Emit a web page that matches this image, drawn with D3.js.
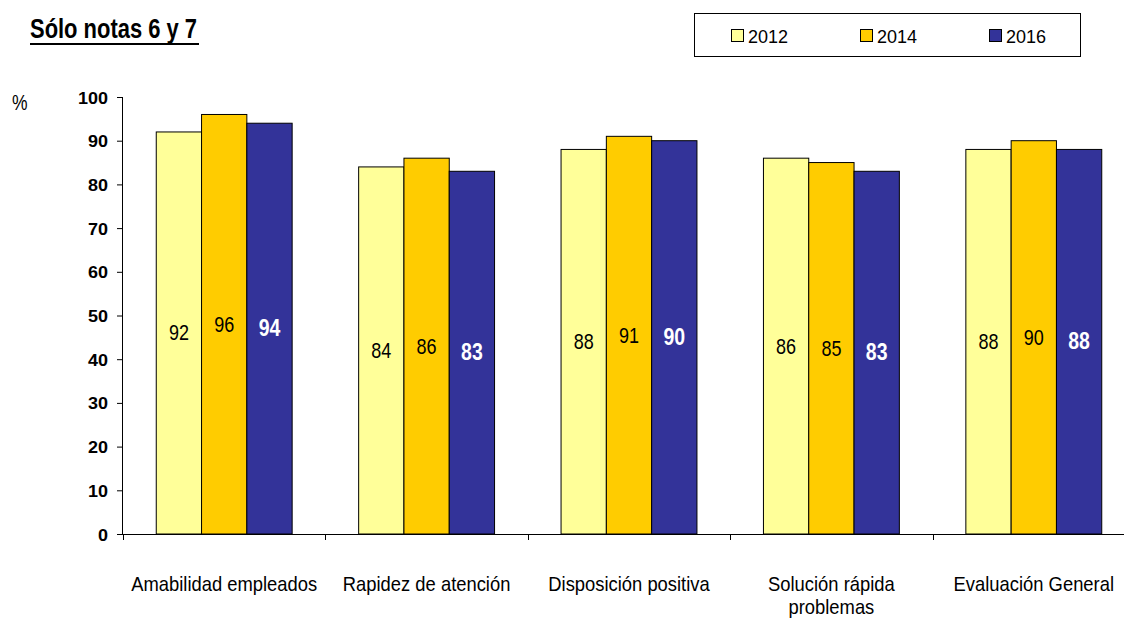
<!DOCTYPE html>
<html>
<head>
<meta charset="utf-8">
<script src="https://cdn.jsdelivr.net/npm/d3@7"></script>
<style>
  body { margin: 0; background: #fff; }
  svg { display: block; font-family: "Liberation Sans", Arial, sans-serif; }
</style>
</head>
<body>
<svg id="chart" width="1124" height="619"></svg>
<script>
// data
const categories = ['Amabilidad empleados', 'Rapidez de atención', 'Disposición positiva', 'Solución rápida problemas', 'Evaluación General'];
const years = ['2012', '2014', '2016'];
const values2012 = [92, 84, 88, 86, 88];
const values2014 = [96, 86, 91, 85, 90];
const values2016 = [94, 83, 90, 83, 88];
const yTicks = [0, 10, 20, 30, 40, 50, 60, 70, 80, 90, 100];

const colors = ['#FFFF99', '#FFCC00', '#333399'];
const series = [values2012, values2014, values2016];

const svg = d3.select('#chart');

const plot = { left: 123, top: 97, bottom: 534, catW: 202.4 };

const x = d3.scaleBand()
    .domain(categories)
    .range([plot.left, plot.left + plot.catW * categories.length])
    .paddingInner(0).paddingOuter(0);

const barW = 45.3;
const groupOffset = (x.bandwidth() - barW * years.length) / 2;

const y = d3.scaleLinear().domain([0, 100]).range([plot.bottom, plot.top]);

// text placed at (tx,ty) with a vertical stretch, the original glyphs are a bit tall
function label(parent, tx, ty, str, opts) {
    const o = Object.assign({ size: 18, weight: 'normal', fill: '#000', anchor: 'start', sy: 1 }, opts);
    return parent.append('text')
        .attr('transform', `translate(${tx},${ty}) scale(1,${o.sy})`)
        .attr('text-anchor', o.anchor)
        .attr('font-size', o.size)
        .attr('font-weight', o.weight)
        .attr('fill', o.fill)
        .text(str);
}

// y axis
const yAxis = svg.append('g')
    .attr('transform', `translate(${plot.left},0)`)
    .call(d3.axisLeft(y).tickValues(yTicks).tickSize(6).tickFormat(d3.format('d')));
yAxis.select('.domain').attr('stroke', '#000').attr('d', `M-0.5,${plot.top}V${plot.bottom}`);
yAxis.selectAll('.tick line').attr('stroke', '#000');
yAxis.selectAll('.tick text').remove();
yAxis.selectAll('.tick').each(function(d) {
    label(d3.select(this), -15, 6, d, { size: 18, weight: 'bold', anchor: 'end', sy: 0.88 });
});

label(svg, 12, 110, '%', { size: 17.5, sy: 1.25 });

// bars
categories.forEach((cat, ci) => {
    series.forEach((vals, si) => {
        const bx = x(cat) + groupOffset + si * barW;
        const v = vals[ci];
        svg.append('rect')
            .attr('x', bx).attr('y', y(v))
            .attr('width', barW).attr('height', y(0) - y(v))
            .attr('fill', colors[si])
            .attr('stroke', '#000').attr('stroke-width', 1);
    });
});

// value labels, centred in each bar
categories.forEach((cat, ci) => {
    series.forEach((vals, si) => {
        const bx = x(cat) + groupOffset + si * barW + barW / 2;
        const v = vals[ci];
        label(svg, bx, y(v / 2) + 7.5, v, {
            size: si === 2 ? 19.5 : 18,
            weight: si === 2 ? 'bold' : 'normal',
            fill: si === 2 ? '#fff' : '#000',
            anchor: 'middle',
            sy: 1.2
        });
    });
});

// x axis
const xAxis = svg.append('g');
xAxis.append('line')
    .attr('x1', plot.left).attr('x2', plot.left + plot.catW * categories.length)
    .attr('y1', plot.bottom + 0.5).attr('y2', plot.bottom + 0.5)
    .attr('stroke', '#000');
d3.range(categories.length + 1).forEach(i => {
    const tx = Math.round(plot.left + i * plot.catW) + 0.5;
    xAxis.append('line')
        .attr('x1', tx).attr('x2', tx)
        .attr('y1', plot.bottom).attr('y2', plot.bottom + 6)
        .attr('stroke', '#000');
});

// category labels (wrap like the original)
const catLines = {
    'Solución rápida problemas': ['Solución rápida', 'problemas']
};
categories.forEach(cat => {
    const lines = catLines[cat] || [cat];
    lines.forEach((ln, i) => {
        label(svg, x(cat) + x.bandwidth() / 2, 591 + i * 22.5, ln, { size: 18.4, anchor: 'middle', sy: 1.12 });
    });
});

// title
svg.append('text')
    .attr('x', 30).attr('y', 38)
    .attr('font-family', '"Liberation Sans Narrow", "Arial Narrow", "Liberation Sans", sans-serif')
    .attr('font-size', 28).attr('font-weight', 'bold')
    .attr('textLength', 167).attr('lengthAdjust', 'spacingAndGlyphs')
    .text('Sólo notas 6 y 7');
svg.append('line')
    .attr('x1', 30).attr('x2', 199)
    .attr('y1', 44).attr('y2', 44)
    .attr('stroke', '#000').attr('stroke-width', 2);

// legend
const legend = svg.append('g');
legend.append('rect')
    .attr('x', 694.5).attr('y', 13.5)
    .attr('width', 386).attr('height', 43)
    .attr('fill', '#fff').attr('stroke', '#000').attr('stroke-width', 1);
const legendX = [731, 860, 989];
years.forEach((yr, i) => {
    legend.append('rect')
        .attr('x', legendX[i] + 0.5).attr('y', 29.5)
        .attr('width', 12).attr('height', 12)
        .attr('fill', colors[i]).attr('stroke', '#000').attr('stroke-width', 1);
    label(legend, legendX[i] + 17, 43, yr, { size: 18, sy: 1.05 });
});
</script>
</body>
</html>
